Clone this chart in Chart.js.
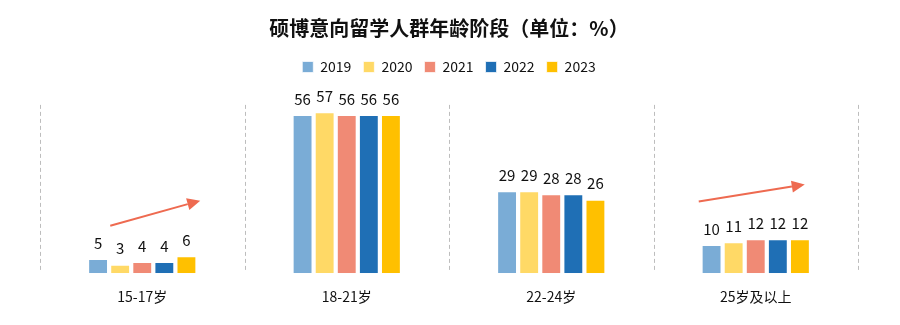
<!DOCTYPE html>
<html>
<head>
<meta charset="utf-8">
<script src="https://cdn.jsdelivr.net/npm/chart.js@4/dist/chart.umd.min.js"></script>
<style>
html,body{margin:0;padding:0;background:#fff;}
#wrap{width:900px;height:325px;position:relative;}
</style>
</head>
<body>
<div id="wrap"><canvas id="c" width="900" height="325"></canvas></div>
<script>
const categories = ['15-17岁', '18-21岁', '22-24岁', '25岁及以上'];
const years = ['2019', '2020', '2021', '2022', '2023'];
const v2019 = [5, 56, 29, 10];
const v2020 = [3, 57, 29, 11];
const v2021 = [4, 56, 28, 12];
const v2022 = [4, 56, 28, 12];
const v2023 = [6, 56, 26, 12];
const colors = ['#7AACD6', '#FFD966', '#F08A75', '#1F6FB5', '#FFC000'];
const titleText = '硕博意向留学人群年龄阶段（单位：%）';

const seriesValues = [v2019, v2020, v2021, v2022, v2023];
const FONT_CN = '"Noto Sans CJK SC", "Noto Sans", sans-serif';

const separators = {
  id: 'separators',
  beforeDatasetsDraw(chart) {
    const {ctx, chartArea, scales} = chart;
    const x = scales.x, y = scales.y;
    const w = (x.getPixelForValue(1) - x.getPixelForValue(0));
    ctx.save();
    ctx.strokeStyle = '#BDBDBD';
    ctx.lineWidth = 1;
    ctx.setLineDash([4, 3]);
    for (let i = 0; i <= categories.length; i++) {
      const px = Math.round(x.getPixelForValue(0) - w / 2 + i * w) + 0.5;
      ctx.beginPath();
      ctx.moveTo(px, y.getPixelForValue(59.6));
      ctx.lineTo(px, chartArea.bottom - 2);
      ctx.stroke();
    }
    ctx.restore();
  }
};

function arrow(ctx, x1, y1, x2, y2) {
  const ang = Math.atan2(y2 - y1, x2 - x1);
  const hl = 13, hw = 6;
  const bx = x2 - hl * Math.cos(ang), by = y2 - hl * Math.sin(ang);
  ctx.beginPath();
  ctx.moveTo(x1, y1);
  ctx.lineTo(bx, by);
  ctx.stroke();
  ctx.beginPath();
  ctx.moveTo(x2, y2);
  ctx.lineTo(bx + hw * Math.sin(ang), by - hw * Math.cos(ang));
  ctx.lineTo(bx - hw * Math.sin(ang), by + hw * Math.cos(ang));
  ctx.closePath();
  ctx.fill();
}

const arrows = {
  id: 'arrows',
  afterDatasetsDraw(chart) {
    const {ctx, scales} = chart;
    const x = scales.x, y = scales.y;
    ctx.save();
    ctx.strokeStyle = '#EE6A50';
    ctx.fillStyle = '#EE6A50';
    ctx.lineWidth = 2;
    const c0 = x.getPixelForValue(0), c3 = x.getPixelForValue(3);
    arrow(ctx, c0 - 32, y.getPixelForValue(16.8), c0 + 58, y.getPixelForValue(25.7));
    arrow(ctx, c3 - 57, y.getPixelForValue(25.4), c3 + 49, y.getPixelForValue(31.4));
    ctx.restore();
  }
};

const dataLabels = {
  id: 'dataLabels',
  afterDatasetsDraw(chart) {
    const {ctx} = chart;
    ctx.save();
    ctx.fillStyle = '#111';
    ctx.font = '15px ' + FONT_CN;
    ctx.textAlign = 'center';
    ctx.textBaseline = 'middle';
    chart.data.datasets.forEach((ds, di) => {
      const meta = chart.getDatasetMeta(di);
      meta.data.forEach((bar, i) => {
        ctx.fillText(String(ds.data[i]), bar.x, bar.y - 16);
      });
    });
    ctx.restore();
  }
};

new Chart(document.getElementById('c'), {
  type: 'bar',
  data: {
    labels: categories,
    datasets: years.map((yr, i) => ({
      label: yr,
      data: seriesValues[i],
      backgroundColor: colors[i],
      borderColor: 'rgba(255,255,255,0.7)',
      borderWidth: 1,
      categoryPercentage: 0.54,
      barPercentage: 0.9
    }))
  },
  options: {
    responsive: false,
    animation: false,
    devicePixelRatio: 1,
    layout: {padding: {left: 40, right: 42, top: 0, bottom: 13}},
    plugins: {
      title: {
        display: true,
        text: titleText,
        color: '#111',
        font: {family: FONT_CN, size: 20, weight: 'bold'},
        padding: {top: 16, bottom: 8}
      },
      legend: {
        display: true,
        labels: {
          boxWidth: 11,
          boxHeight: 11,
          color: '#111',
          font: {family: FONT_CN, size: 14},
          padding: 12
        }
      },
      tooltip: {enabled: false}
    },
    scales: {
      x: {
        grid: {display: false},
        border: {display: false},
        ticks: {color: '#111', font: {family: FONT_CN, size: 14}, padding: 7}
      },
      y: {
        display: false,
        min: 0,
        max: 67
      }
    }
  },
  plugins: [separators, arrows, dataLabels]
});
</script>
</body>
</html>
